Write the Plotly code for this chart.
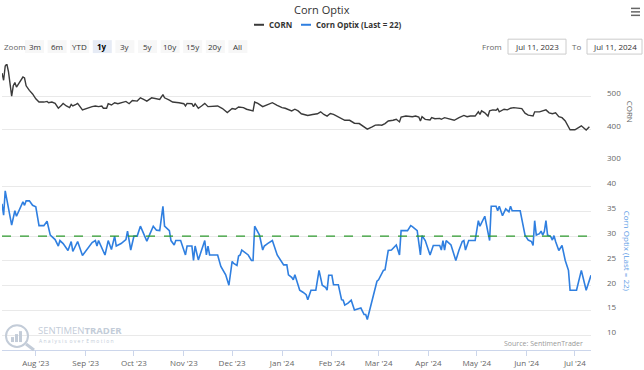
import plotly.graph_objects as go

# ---------------- data ----------------
corn_dates = ["2023-07-11","2023-07-12","2023-07-13","2023-07-14","2023-07-15","2023-07-17","2023-07-18","2023-07-19","2023-07-20","2023-07-22",
"2023-07-24","2023-07-25","2023-07-26","2023-07-28","2023-07-30","2023-08-01","2023-08-03","2023-08-06","2023-08-08","2023-08-09",
"2023-08-11","2023-08-13","2023-08-15","2023-08-17","2023-08-18","2023-08-20","2023-08-22","2023-08-23","2023-08-24","2023-08-26",
"2023-08-27","2023-08-30","2023-09-02","2023-09-05","2023-09-07","2023-09-09","2023-09-11","2023-09-12","2023-09-14","2023-09-15",
"2023-09-17","2023-09-19","2023-09-21","2023-09-23","2023-09-26","2023-09-28","2023-09-30","2023-10-03","2023-10-05","2023-10-07",
"2023-10-09","2023-10-12","2023-10-15","2023-10-17","2023-10-19","2023-10-20","2023-10-23","2023-10-25","2023-10-29","2023-11-01",
"2023-11-02","2023-11-03","2023-11-06","2023-11-07","2023-11-08","2023-11-10","2023-11-12","2023-11-14","2023-11-16","2023-11-19",
"2023-11-22","2023-11-25","2023-11-28","2023-12-01","2023-12-03","2023-12-05","2023-12-08","2023-12-10","2023-12-12","2023-12-14",
"2023-12-15","2023-12-17","2023-12-20","2023-12-23","2023-12-26","2023-12-29","2024-01-01","2024-01-03","2024-01-05","2024-01-07",
"2024-01-09","2024-01-11","2024-01-13","2024-01-17","2024-01-20","2024-01-23","2024-01-25","2024-01-27","2024-01-29","2024-01-31",
"2024-02-02","2024-02-04","2024-02-07","2024-02-09","2024-02-12","2024-02-15","2024-02-18","2024-02-20","2024-02-23","2024-02-26",
"2024-02-28","2024-03-01","2024-03-03","2024-03-05","2024-03-07","2024-03-10","2024-03-12","2024-03-14","2024-03-15","2024-03-18",
"2024-03-22","2024-03-24","2024-03-26","2024-03-27","2024-03-28","2024-03-30","2024-04-02","2024-04-03","2024-04-05","2024-04-08",
"2024-04-09","2024-04-11","2024-04-13","2024-04-17","2024-04-20","2024-04-23","2024-04-25","2024-04-27","2024-04-30","2024-05-02",
"2024-05-03","2024-05-04","2024-05-06","2024-05-08","2024-05-09","2024-05-11","2024-05-13","2024-05-14","2024-05-15","2024-05-18",
"2024-05-20","2024-05-22","2024-05-24","2024-05-27","2024-05-29","2024-05-31","2024-06-02","2024-06-05","2024-06-06","2024-06-09",
"2024-06-11","2024-06-13","2024-06-15","2024-06-17","2024-06-19","2024-06-21","2024-06-23","2024-06-25","2024-06-28","2024-07-01",
"2024-07-05","2024-07-08","2024-07-10"]
corn_values = [572,550,594,600,577,501,533,543,529,543,
560,557,533,519,508,493,483,483,485,481,
483,479,464,473,479,471,466,476,471,476,
479,459,465,469,471,469,471,464,464,478,
474,481,478,481,485,478,488,486,496,491,
486,496,493,491,506,496,489,483,481,478,
471,479,478,469,478,464,471,479,469,469,
471,463,451,463,461,468,466,461,459,456,
483,479,469,475,481,473,466,464,459,456,
461,456,447,442,445,447,453,445,440,448,
445,440,432,427,427,418,417,410,400,407,
412,413,412,417,425,427,430,422,437,440,
438,440,437,425,438,430,428,435,432,433,
430,435,432,427,435,442,438,440,440,453,
445,456,450,440,456,459,458,463,453,461,
459,464,466,465,463,449,443,440,453,453,
456,459,450,447,450,438,435,425,398,398,
410,397,407]

optix_dates = ["2023-07-11","2023-07-12","2023-07-13","2023-07-14","2023-07-17","2023-07-19","2023-07-20","2023-07-24","2023-07-25","2023-07-26",
"2023-07-28","2023-07-30","2023-08-01","2023-08-03","2023-08-06","2023-08-08","2023-08-10","2023-08-13","2023-08-15","2023-08-16",
"2023-08-18","2023-08-21","2023-08-23","2023-08-24","2023-08-27","2023-08-30","2023-09-02","2023-09-05","2023-09-07","2023-09-08",
"2023-09-09","2023-09-11","2023-09-13","2023-09-15","2023-09-17","2023-09-19","2023-09-20","2023-09-23","2023-09-26","2023-09-27",
"2023-09-29","2023-10-01","2023-10-03","2023-10-05","2023-10-07","2023-10-09","2023-10-11","2023-10-13","2023-10-15","2023-10-17",
"2023-10-19","2023-10-20","2023-10-23","2023-10-24","2023-10-26","2023-10-27","2023-10-30","2023-11-02","2023-11-03","2023-11-06",
"2023-11-07","2023-11-08","2023-11-10","2023-11-14","2023-11-15","2023-11-16","2023-11-17","2023-11-22","2023-11-24","2023-11-27",
"2023-11-29","2023-12-01","2023-12-02","2023-12-04","2023-12-05","2023-12-06","2023-12-07","2023-12-09","2023-12-11","2023-12-13",
"2023-12-14","2023-12-15","2023-12-18","2023-12-20","2023-12-21","2023-12-23","2023-12-26","2023-12-29","2023-12-31","2024-01-02",
"2024-01-04","2024-01-05","2024-01-07","2024-01-08","2024-01-09","2024-01-12","2024-01-14","2024-01-16","2024-01-17","2024-01-19",
"2024-01-22","2024-01-24","2024-01-26","2024-01-28","2024-01-29","2024-01-30","2024-02-01","2024-02-02","2024-02-05","2024-02-07",
"2024-02-08","2024-02-09","2024-02-11","2024-02-13","2024-02-15","2024-02-17","2024-02-19","2024-02-21","2024-02-22","2024-02-23",
"2024-02-25","2024-02-27","2024-02-29","2024-03-01","2024-03-03","2024-03-04","2024-03-05","2024-03-07","2024-03-09","2024-03-11",
"2024-03-12","2024-03-14","2024-03-15","2024-03-19","2024-03-21","2024-03-22","2024-03-25","2024-03-27","2024-03-28","2024-03-30",
"2024-03-31","2024-04-02","2024-04-04","2024-04-08","2024-04-09","2024-04-10","2024-04-11","2024-04-12","2024-04-15","2024-04-16",
"2024-04-18","2024-04-20","2024-04-22","2024-04-23","2024-04-24","2024-04-26","2024-04-30","2024-05-02","2024-05-03","2024-05-06",
"2024-05-08","2024-05-09","2024-05-10","2024-05-13","2024-05-14","2024-05-15","2024-05-17","2024-05-19","2024-05-21","2024-05-22",
"2024-05-23","2024-05-24","2024-05-28","2024-05-31","2024-06-02","2024-06-04","2024-06-05","2024-06-06","2024-06-07","2024-06-09",
"2024-06-10","2024-06-11","2024-06-12","2024-06-13","2024-06-14","2024-06-16","2024-06-17","2024-06-18","2024-06-19","2024-06-21",
"2024-06-23","2024-06-25","2024-06-27","2024-06-28","2024-07-02","2024-07-05","2024-07-08","2024-07-11"]
optix_values = [36.5,34.2,39.1,37.2,32.2,35.1,34.0,36.9,36.2,37.1,
37.1,36.2,35.9,32.1,32.1,33.0,30.2,29.3,28.0,29.1,
28.5,27.1,28.9,26.9,28.9,26.1,27.5,28.7,29.1,28.0,
29.1,27.7,26.2,29.1,27.3,30.0,28.0,28.5,29.3,31.0,
27.2,30.0,30.0,32.0,30.5,29.0,30.5,32.0,31.2,31.1,
36.0,32.0,31.1,29.1,28.2,29.1,29.1,26.2,28.0,28.0,
25.1,28.0,25.2,29.1,26.2,28.0,26.2,26.2,23.9,22.2,
20.1,24.9,24.5,24.1,26.0,26.2,27.2,26.7,26.2,25.1,
25.1,32.0,30.2,27.2,28.0,28.5,29.1,26.2,25.3,24.2,
24.2,22.2,21.7,21.2,22.2,19.1,18.7,18.2,17.2,19.1,
19.1,23.1,20.1,19.7,19.1,22.1,22.1,20.2,20.2,17.2,
17.1,16.1,16.5,17.1,15.1,15.3,15.5,14.2,14.2,13.2,
15.9,18.1,20.9,21.2,22.4,23.1,23.2,27.1,27.2,28.0,
28.2,26.2,31.1,31.1,32.1,31.9,31.1,26.2,30.1,29.1,
28.2,26.2,28.1,28.1,27.2,29.1,27.2,29.1,28.2,27.2,
25.1,27.2,28.9,29.1,27.2,29.1,29.1,33.1,32.0,34.0,
30.5,29.1,36.0,36.0,35.1,36.0,34.1,35.5,34.9,36.0,
35.1,35.1,35.1,30.2,29.2,28.9,28.1,33.1,30.2,30.5,
31.0,30.2,30.9,33.1,30.2,29.9,29.2,30.1,28.9,27.1,
28.1,25.1,23.1,19.1,19.1,23.1,19.1,22.1]

threshold = 30
corn_ticks = [300, 400, 500, 600]
corn_ticktext = ["300", "400", "500", ""]
optix_ticks = [10, 15, 20, 25, 30, 35, 40]
zoom_buttons = ["3m", "6m", "YTD", "1y", "3y", "5y", "10y", "15y", "20y", "All"]
selected_button = "1y"
date_from = "Jul 11, 2023"
date_to = "Jul 11, 2024"

# ---------------- layout helpers ----------------
W_FIG, H_FIG = 644, 370
ML, MR, MT, MB = 2, 53, 64, 18
PW = W_FIG - ML - MR
PH = H_FIG - MT - MB


def px(x):
    return (x - ML) / PW


def py(y):
    return (H_FIG - MB - y) / PH


FONT = "Open Sans, Segoe UI, Arial, sans-serif"
GRID = "#e9e9e9"
LABEL = "#666666"
BLUE = "#2f7fe0"
DARK = "#3a3a3a"

fig = go.Figure()
fig.add_trace(go.Scatter(x=corn_dates, y=corn_values, mode="lines", name="CORN",
                         line=dict(color=DARK, width=1.4), xaxis="x", yaxis="y"))
fig.add_trace(go.Scatter(x=optix_dates, y=optix_values, mode="lines", name="Corn Optix (Last = 22)",
                         line=dict(color=BLUE, width=1.6), xaxis="x2", yaxis="y2"))

top_dom = [py(162.3), 1.0]
bot_dom = [0.0, py(175)]

fig.update_layout(
    width=W_FIG, height=H_FIG,
    margin=dict(l=ML, r=MR, t=MT, b=MB),
    paper_bgcolor="white", plot_bgcolor="white",
    showlegend=False,
    font=dict(family=FONT, size=8, color=LABEL),
    xaxis=dict(domain=[0, 1], anchor="y", range=["2023-07-11", "2024-07-11"], matches="x2",
               showticklabels=False, showgrid=False, zeroline=False, showline=False, ticks=""),
    xaxis2=dict(domain=[0, 1], anchor="y2", range=["2023-07-11", "2024-07-11"],
                showgrid=False, zeroline=False, showline=True, linecolor="#ccd6eb", linewidth=1,
                ticks="outside", ticklen=5, tickcolor="#ccd6eb",
                tick0="2023-08-01", dtick="M1", tickformat="%b '%y",
                tickfont=dict(size=8, color=LABEL)),
    yaxis=dict(domain=top_dom, anchor="x", side="right", range=[300, 600],
               tickvals=corn_ticks, ticktext=corn_ticktext,
               showgrid=True, gridcolor=GRID, zeroline=False, showline=False, ticks="",
               ticklabelstandoff=15, ticklabelshift=-3, tickfont=dict(size=8, color=LABEL)),
    yaxis2=dict(domain=bot_dom, anchor="x2", side="right", range=[7.06, 42.46],
                tickvals=optix_ticks,
                showgrid=True, gridcolor=GRID, zeroline=False, showline=False, ticks="",
                ticklabelstandoff=15, ticklabelshift=-3, tickfont=dict(size=8, color=LABEL)),
)

shapes = []
ann = []

# threshold line
shapes.append(dict(type="line", xref="x2 domain", yref="y2", x0=0, x1=1, y0=threshold, y1=threshold,
                   line=dict(color="#2e9a2e", width=1.3, dash="dash")))

# title
ann.append(dict(text="Corn Optix", x=px(322), y=py(9), xref="paper", yref="paper", showarrow=False,
                font=dict(size=11, color="#333333", family=FONT), xanchor="center", yanchor="middle"))
# hamburger menu
for yy in (8, 11.5, 15):
    shapes.append(dict(type="line", xref="paper", yref="paper", x0=px(631), x1=px(640), y0=py(yy), y1=py(yy),
                       line=dict(color="#666666", width=1.5)))

# legend
shapes.append(dict(type="line", xref="paper", yref="paper", x0=px(254), x1=px(264), y0=py(24.5), y1=py(24.5),
                   line=dict(color=DARK, width=2)))
ann.append(dict(text="<b>CORN</b>", x=px(267), y=py(24.5), xref="paper", yref="paper", showarrow=False,
                font=dict(size=8, color="#333333"), xanchor="left", yanchor="middle"))
shapes.append(dict(type="line", xref="paper", yref="paper", x0=px(301), x1=px(311), y0=py(24.5), y1=py(24.5),
                   line=dict(color=BLUE, width=2)))
ann.append(dict(text="<b>Corn Optix (Last = 22)</b>", x=px(314), y=py(24.5), xref="paper", yref="paper",
                showarrow=False, font=dict(size=8, color="#333333"), xanchor="left", yanchor="middle"))

# zoom row
ann.append(dict(text="Zoom", x=px(2), y=py(46.5), xref="paper", yref="paper", showarrow=False,
                font=dict(size=8, color=LABEL), xanchor="left", yanchor="middle"))
bx0 = 25.0
for i, b in enumerate(zoom_buttons):
    x0 = bx0 + i * 22.6
    sel = (b == selected_button)
    shapes.append(dict(type="rect", xref="paper", yref="paper", x0=px(x0), x1=px(x0 + 19), y0=py(53), y1=py(40),
                       fillcolor="#e6ebf5" if sel else "#f7f7f7", line=dict(width=0), layer="below"))
    ann.append(dict(text=f"<b>{b}</b>" if sel else b, x=px(x0 + 9.5), y=py(46.5), xref="paper", yref="paper",
                    showarrow=False, font=dict(size=8, color="#000000" if sel else "#333333"),
                    xanchor="center", yanchor="middle"))

# date range inputs
ann.append(dict(text="From", x=px(504), y=py(46.5), xref="paper", yref="paper", showarrow=False,
                font=dict(size=8, color=LABEL), xanchor="right", yanchor="middle"))
shapes.append(dict(type="rect", xref="paper", yref="paper", x0=px(508), x1=px(566), y0=py(54), y1=py(39),
                   fillcolor="white", line=dict(color="#cccccc", width=1)))
ann.append(dict(text=date_from, x=px(537), y=py(46.5), xref="paper", yref="paper", showarrow=False,
                font=dict(size=8, color="#333333"), xanchor="center", yanchor="middle"))
ann.append(dict(text="To", x=px(583), y=py(46.5), xref="paper", yref="paper", showarrow=False,
                font=dict(size=8, color=LABEL), xanchor="right", yanchor="middle"))
shapes.append(dict(type="rect", xref="paper", yref="paper", x0=px(587), x1=px(642), y0=py(54), y1=py(39),
                   fillcolor="white", line=dict(color="#cccccc", width=1)))
ann.append(dict(text=date_to, x=px(614.5), y=py(46.5), xref="paper", yref="paper", showarrow=False,
                font=dict(size=8, color="#333333"), xanchor="center", yanchor="middle"))

# axis titles (rotated, right side)
ann.append(dict(text="CORN", x=px(630), y=py(112), xref="paper", yref="paper", showarrow=False,
                textangle=90, font=dict(size=8, color=LABEL), xanchor="center", yanchor="middle"))
ann.append(dict(text="Corn Optix (Last = 22)", x=px(627), y=py(252), xref="paper", yref="paper", showarrow=False,
                textangle=90, font=dict(size=8, color="#5b9be6"), xanchor="center", yanchor="middle"))

# source credit
ann.append(dict(text="Source: SentimenTrader", x=px(585), y=py(345), xref="paper", yref="paper", showarrow=False,
                font=dict(size=7, color="#999999"), xanchor="right", yanchor="middle"))

# watermark
WM = "#c3ccd8"
shapes.append(dict(type="circle", xref="paper", yref="paper", x0=px(6), x1=px(28), y0=py(349), y1=py(327),
                   line=dict(color=WM, width=2)))
for bx, bh in ((11, 5), (15, 8), (19, 11)):
    shapes.append(dict(type="rect", xref="paper", yref="paper", x0=px(bx), x1=px(bx + 3), y0=py(344), y1=py(344 - bh),
                       fillcolor=WM, line=dict(width=0)))
shapes.append(dict(type="line", xref="paper", yref="paper", x0=px(26), x1=px(34), y0=py(346), y1=py(352),
                   line=dict(color=WM, width=3)))
ann.append(dict(text="SENTIMEN<b>TRADER</b>", x=px(36), y=py(332.5), xref="paper", yref="paper", showarrow=False,
                font=dict(size=9.5, color=WM), xanchor="left", yanchor="middle"))
ann.append(dict(text="A n a l y s i s  o v e r  E m o t i o n", x=px(37), y=py(343), xref="paper", yref="paper",
                showarrow=False, font=dict(size=5, color=WM), xanchor="left", yanchor="middle"))

fig.update_layout(shapes=shapes, annotations=ann)
fig.write_html("out.html", config={"displayModeBar": False},
               post_script="document.body.style.margin='0';document.body.style.padding='0';")
